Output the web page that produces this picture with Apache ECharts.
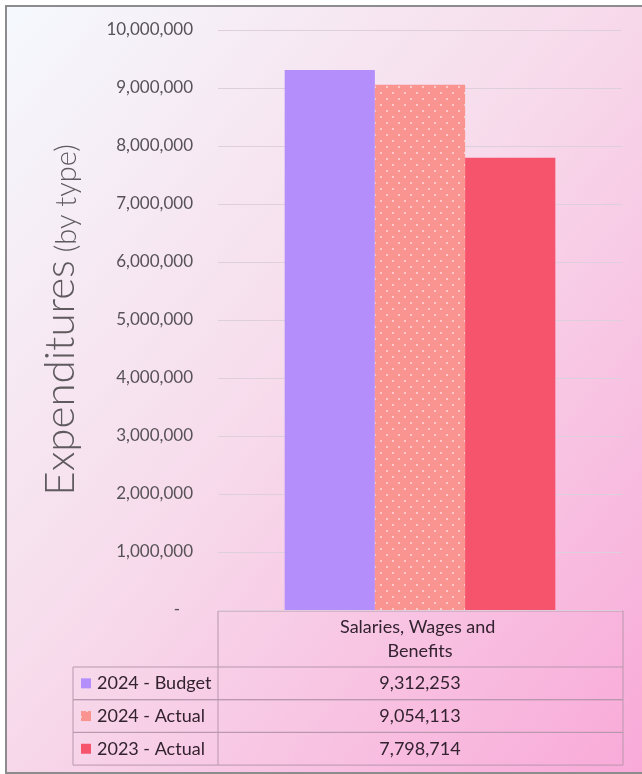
<!DOCTYPE html>
<html>
<head>
<meta charset="utf-8">
<script src="https://cdn.jsdelivr.net/npm/echarts@6/dist/echarts.min.js"></script>
<style>
  html, body { margin: 0; padding: 0; background: #ffffff; }
  #frame {
    position: absolute; left: 5px; top: 5px; width: 640px; height: 765px;
    border: 2px solid #8c8c8c; border-right: none;
    background: linear-gradient(to bottom right, #f5f9fd 0%, #f7dcec 45%, #f9a9d8 100%);
  }
  #chart { position: absolute; left: 0; top: 0; width: 642px; height: 774px; }
</style>
</head>
<body>
<div id="frame"></div>
<div id="chart"></div>
<script>
// Expenditures by type: budget vs actuals
const categories = ['Salaries, Wages and Benefits'];
const seriesNames = ['2024 - Budget', '2024 - Actual', '2023 - Actual'];
const budget2024 = [9312253];
const actual2024 = [9054113];
const actual2023 = [7798714];
const yTicks = [0, 1000000, 2000000, 3000000, 4000000, 5000000, 6000000, 7000000, 8000000, 9000000, 10000000];

const seriesValues = [budget2024, actual2024, actual2023];
const colors = ['#b48ffb', '#f99490', '#f6546d'];

const FONT = 'Lato, "Liberation Sans", sans-serif';
const TEXT_DARK = '#33222f';
const LINE = '#b797ae';

// layout of the plot area
const GRID = { left: 218, right: 20, top: 30, bottom: 164 };
const W = 642, H = 774;
const plotRight = W - GRID.right;
const plotBottom = H - GRID.bottom;

// small white dots on the salmon fill
function dotPattern(base) {
  const c = document.createElement('canvas');
  c.width = 12; c.height = 12;
  const g = c.getContext('2d');
  g.fillStyle = base;
  g.fillRect(0, 0, 12, 12);
  g.fillStyle = 'rgba(255,255,255,0.75)';
  [[3, 3], [9, 9]].forEach(([x, y]) => {
    g.beginPath(); g.arc(x, y, 0.9, 0, Math.PI * 2); g.fill();
  });
  return { image: c, repeat: 'repeat' };
}
const fills = [colors[0], dotPattern(colors[1]), colors[2]];

const fmt = v => v.toLocaleString('en-US');

// data table under the plot
const rowTop = 667, rowH = 32.7, tableLeft = 73;
const TABLE_FONT = '18px ' + FONT;
const graphics = [];
// header cell border
graphics.push({ type: 'polyline', shape: { points: [[GRID.left, rowTop], [GRID.left, plotBottom + 1], [plotRight + 1, plotBottom + 1], [plotRight + 1, rowTop]] },
  style: { stroke: LINE, lineWidth: 1, fill: null } });
seriesNames.forEach((name, i) => {
  const y0 = rowTop + i * rowH;
  const y1 = y0 + rowH;
  const cy = (y0 + y1) / 2;
  graphics.push({ type: 'rect', shape: { x: tableLeft, y: y0, width: plotRight + 1 - tableLeft, height: rowH },
    style: { stroke: LINE, lineWidth: 1, fill: null } });
  graphics.push({ type: 'line', shape: { x1: GRID.left, y1: y0, x2: GRID.left, y2: y1 },
    style: { stroke: LINE, lineWidth: 1 } });
  graphics.push({ type: 'rect', shape: { x: 81, y: cy - 5, width: 10, height: 10 },
    style: { fill: fills[i] } });
  graphics.push({ type: 'text', x: 97, y: cy,
    style: { text: name, font: TABLE_FONT, fill: TEXT_DARK, verticalAlign: 'middle', align: 'left' } });
  graphics.push({ type: 'text', x: (GRID.left + plotRight) / 2, y: cy,
    style: { text: fmt(seriesValues[i][0]), font: TABLE_FONT, fill: TEXT_DARK, verticalAlign: 'middle', align: 'center' } });
});

const chart = echarts.init(document.getElementById('chart'), null, { renderer: 'canvas' });
chart.setOption({
  backgroundColor: 'transparent',
  animation: false,
  textStyle: { fontFamily: FONT },
  grid: { left: GRID.left, right: GRID.right, top: GRID.top, bottom: GRID.bottom, containLabel: false },
  xAxis: {
    type: 'category',
    data: categories,
    axisLine: { show: false },
    axisTick: { show: false },
    axisLabel: {
      interval: 0, margin: 5, width: 210, overflow: 'break',
      fontSize: 18, lineHeight: 24, color: TEXT_DARK, fontFamily: FONT
    }
  },
  yAxis: {
    type: 'value',
    min: yTicks[0],
    max: yTicks[yTicks.length - 1],
    interval: yTicks[1] - yTicks[0],
    axisLine: { show: false },
    axisTick: { show: false },
    splitLine: { lineStyle: { color: '#ddd0dc', width: 1 } },
    axisLabel: {
      margin: 25, fontSize: 17, color: '#575257', fontFamily: FONT,
      formatter: v => (v === 0 ? '-   ' : fmt(v))
    },
    name: '{a|Expenditures}{b| (by type)}',
    nameLocation: 'middle',
    nameRotate: 90,
    nameGap: 137,
    nameTextStyle: {
      color: '#5e5a5e',
      rich: {
        a: { fontSize: 42, fontFamily: FONT, fontWeight: 300, color: '#5e5a5e', verticalAlign: 'bottom', lineHeight: 48 },
        b: { fontSize: 29, fontFamily: FONT, fontWeight: 300, color: '#5e5a5e', verticalAlign: 'bottom', lineHeight: 43 }
      }
    }
  },
  series: seriesNames.map((name, i) => ({
    name,
    type: 'bar',
    data: seriesValues[i],
    barGap: '0%',
    barCategoryGap: '33%',
    itemStyle: { color: fills[i] }
  })),
  graphic: graphics
});
</script>
</body>
</html>
